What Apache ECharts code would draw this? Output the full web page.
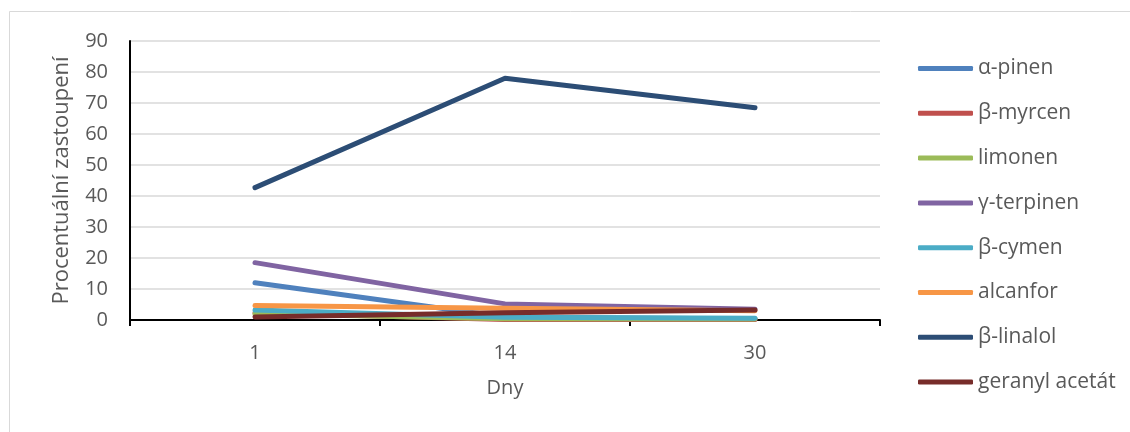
<!DOCTYPE html>
<html>
<head>
<meta charset="utf-8">
<script src="https://cdn.jsdelivr.net/npm/echarts@6/dist/echarts.min.js"></script>
<style>
  html, body { margin: 0; padding: 0; background: #fff; }
  #chart { width: 1130px; height: 432px; }
</style>
</head>
<body>
<div id="chart"></div>
<script>
// Days of measurement (category axis)
const days = ['1', '14', '30'];

// Percentage share of each compound per day
const aPinen    = [12.0, 1.0, 0.3];
const bMyrcen   = [2.3, 0.2, 0.2];
const limonen   = [2.0, 0.4, 0.3];
const gTerpinen = [18.5, 5.2, 3.5];
const bCymen    = [3.2, 0.9, 0.6];
const alcanfor  = [4.7, 3.8, 3.0];
const bLinalol  = [42.7, 78.0, 68.5];
const geranyl   = [1.0, 2.3, 3.2];

const seriesNames  = ['α-pinen', 'β-myrcen', 'limonen', 'γ-terpinen', 'β-cymen', 'alcanfor', 'β-linalol', 'geranyl acetát'];
const seriesData   = [aPinen, bMyrcen, limonen, gTerpinen, bCymen, alcanfor, bLinalol, geranyl];
const seriesColors = ['#4F81BD', '#C0504D', '#9BBB59', '#8064A2', '#4BACC6', '#F79646', '#2C4D75', '#772C2A'];

const FONT = '"Open Sans", "DejaVu Sans", sans-serif';
const TEXT = '#595959';

const chart = echarts.init(document.getElementById('chart'), null, { renderer: 'canvas' });

chart.setOption({
  animation: false,
  backgroundColor: '#fff',
  graphic: [{
    type: 'rect',
    shape: { x: 9.5, y: 11.5, width: 1140, height: 440 },
    style: { fill: 'none', stroke: '#D9D9D9', lineWidth: 1 },
    silent: true
  }],
  grid: { left: 130, right: 250, top: 41, bottom: 112 },
  legend: {
    orient: 'vertical',
    left: 918,
    top: 58,
    padding: 0,
    itemWidth: 55,
    itemHeight: 5,
    itemGap: 23.8,
    icon: 'roundRect',
    textStyle: { fontFamily: FONT, fontSize: 21, color: TEXT },
    data: seriesNames
  },
  xAxis: {
    type: 'category',
    data: days,
    boundaryGap: true,
    name: 'Dny',
    nameLocation: 'middle',
    nameGap: 58,
    nameTextStyle: { fontFamily: FONT, fontSize: 20, color: TEXT },
    axisLine: { lineStyle: { color: '#000', width: 2 } },
    axisTick: { show: true, inside: false, length: 6, alignWithLabel: false, lineStyle: { color: '#000', width: 2 } },
    axisLabel: { fontFamily: FONT, fontSize: 20, color: TEXT, margin: 23 },
    splitLine: { show: false }
  },
  yAxis: {
    type: 'value',
    min: 0,
    max: 90,
    interval: 10,
    name: 'Procentuální zastoupení',
    nameLocation: 'middle',
    nameRotate: 90,
    nameGap: 57,
    nameTextStyle: { fontFamily: FONT, fontSize: 22, color: TEXT },
    axisLine: { show: true, lineStyle: { color: '#000', width: 2 } },
    axisTick: { show: false },
    axisLabel: { fontFamily: FONT, fontSize: 20, color: TEXT, margin: 22 },
    splitLine: { show: true, lineStyle: { color: '#D9D9D9', width: 1.5 } }
  },
  series: seriesNames.map((name, i) => ({
    name: name,
    type: 'line',
    data: seriesData[i],
    symbol: 'none',
    color: seriesColors[i],
    lineStyle: { width: 5, cap: 'round', join: 'round', color: seriesColors[i] }
  }))
});
</script>
</body>
</html>
